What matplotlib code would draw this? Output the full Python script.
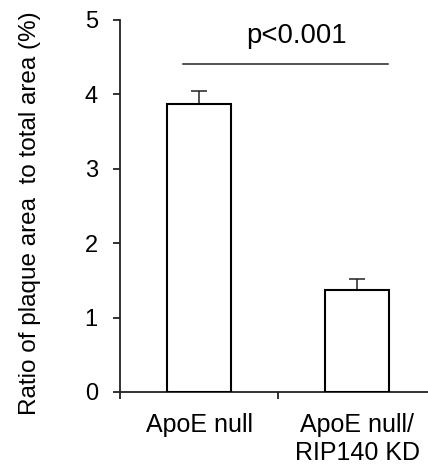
import matplotlib
matplotlib.use("Agg")
import matplotlib.pyplot as plt

categories = ["ApoE null", "ApoE null/\nRIP140 KD"]
means = [3.87, 1.37]
errors = [0.18, 0.15]
y_ticks = [0, 1, 2, 3, 4, 5]
p_text = "p<0.001"
y_label = "Ratio of plaque area  to total area (%)"

plt.rcParams['font.family'] = ['Liberation Sans', 'DejaVu Sans']

fig = plt.figure(figsize=(4.28, 4.72), dpi=100)
ax = fig.add_axes([120/428, 80/472, 308/428, 372/472])

x = list(range(len(categories)))
ax.bar(x, means, width=0.41, color='white', edgecolor='black', linewidth=1.5, zorder=3)
ax.errorbar(x, means, yerr=[[0]*len(errors), errors], fmt='none', ecolor='#222222',
            elinewidth=1.1, capsize=6, capthick=1.1, zorder=2)

ax.set_xlim(-0.5, 1.449)
ax.set_ylim(0, 5)
ax.set_yticks(y_ticks)
ax.set_yticklabels([str(t) for t in y_ticks], fontsize=17)
ax.set_xticks(x)
ax.set_xticklabels(categories, fontsize=18)
ax.set_xticks([-0.5, 0.5], minor=True)
ax.tick_params(axis='x', which='major', length=0, pad=15)
ax.tick_params(axis='x', which='minor', length=5, width=1.3, direction='out', color='#222222')
ax.tick_params(axis='y', length=5, width=1.3, direction='out', pad=11, color='#222222')

for s in ['top', 'right']:
    ax.spines[s].set_visible(False)
for s in ['left', 'bottom']:
    ax.spines[s].set_linewidth(1.3)
    ax.spines[s].set_color('#222222')

ax.set_ylabel(y_label, fontsize=17.5)
ax.yaxis.set_label_coords(-0.255, 0.48)

# significance bar
ax.plot([-0.101, 1.196], [4.41, 4.41], color='#222222', linewidth=1.1, clip_on=False)
ax.text(0.614, 4.69, p_text, ha='center', va='baseline', fontsize=19.8)

fig.savefig("out.png", dpi=100)
